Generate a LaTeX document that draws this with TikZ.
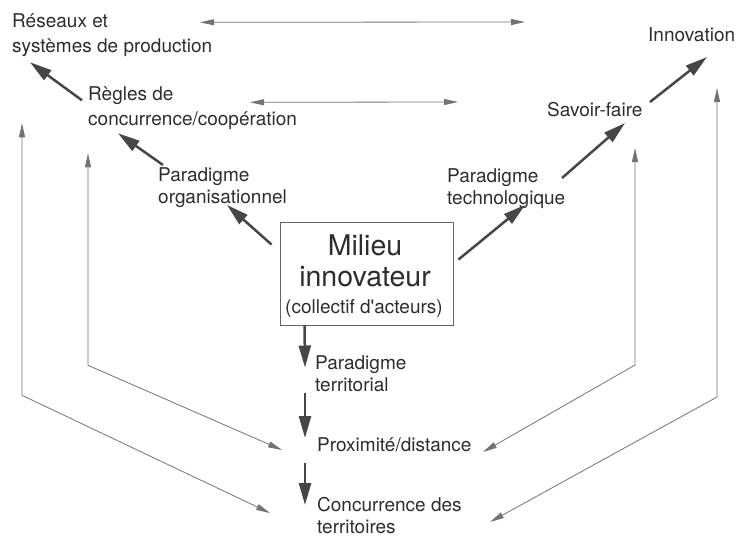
\documentclass[tikz,border=0pt]{standalone}
\usepackage{fontspec}
\setmainfont{TeX Gyre Heros}
\usetikzlibrary{arrows.meta}
\definecolor{txt}{RGB}{45,45,45}
\definecolor{arr}{RGB}{70,70,70}
\definecolor{thinc}{RGB}{115,115,115}
\definecolor{boxc}{RGB}{100,100,100}
\begin{document}
\begin{tikzpicture}[x=1pt,y=-1pt,
  lbl/.style={anchor=west, inner sep=0pt, align=left, text=txt, font=\fontsize{19}{25}\selectfont},
  lbls/.style={lbl, font=\fontsize{19}{22}\selectfont},
  mainarr/.style={draw=arr, line width=2.5pt, -{Triangle[length=22pt,width=12pt]}},
  fbarr/.style={draw=thinc, line width=0.8pt, {Triangle[length=14pt,width=6pt]}-{Triangle[length=14pt,width=6pt]}},
  boxtxt/.style={inner sep=0pt, text=txt}
]
\useasboundingbox (0,0) rectangle (737,538);

% labels
\node[lbl] (res) at (12,35.3) {Réseaux et\\systèmes de production};
\node[lbl] (regles) at (88,108.3) {Règles de\\concurrence/coopération};
\node[lbls] (porg) at (158,188) {Paradigme\\organisationnel};
\node[lbls] (ptech) at (447,189) {Paradigme\\technologique};
\node[lbl] (savoir) at (547,110) {Savoir-faire};
\node[lbl] (innov) at (648,35) {Innovation};
\node[lbls] (pterr) at (315,373.5) {Paradigme\\territorial};
\node[lbl] (prox) at (317,445) {Proximité/distance};
\node[lbls] (conc) at (317,516) {Concurrence des\\territoires};

% central box
\node[draw=boxc, line width=0.9pt, minimum width=173pt, minimum height=103pt, inner sep=0pt] (milieu) at (366.5,273.5) {};
\node[boxtxt, font=\fontsize{28.5}{30}\selectfont] (m1) at (365,245) {Milieu};
\node[boxtxt, font=\fontsize{28.5}{30}\selectfont] (m2) at (365,277) {innovateur};
\node[boxtxt, font=\fontsize{19}{22}\selectfont] (m3) at (364,309) {(collectif d\textquotesingle acteurs)};

% main chain arrows
\draw[mainarr] ([shift={(-6,-8)}]regles.west) -- ([shift={(18,27)}]res.west);
\draw[mainarr] ([shift={(5,-23)}]porg.west) -- ([shift={(30,25)}]regles.west);
\draw[mainarr] ([shift={(-8,23)}]milieu.north west) -- ([shift={(69,17)}]porg.west);
\draw[mainarr] ([shift={(5,38)}]milieu.north east) -- ([shift={(78,16)}]ptech.west);
\draw[mainarr] ([shift={(115,-11)}]ptech.west) -- ([shift={(78,13)}]savoir.west);
\draw[mainarr] ([shift={(103,-8)}]savoir.west) -- ([shift={(59,22)}]innov.west);

% down arrows
\draw[mainarr] ([shift={(25,0)}]milieu.south west) -- ([shift={(-10,-6)}]pterr.west);
\draw[mainarr] ([shift={(-10,19)}]pterr.west) -- ([shift={(-12,-7)}]prox.west);
\draw[mainarr] ([shift={(-12,18)}]prox.west) -- ([shift={(-12,-11)}]conc.west);

% horizontal double arrows
\draw[fbarr] ([shift={(188,-13)}]res.west) -- ([shift={(-123,-13)}]innov.west);
\draw[fbarr] ([shift={(162,-6)}]regles.west) -- ([shift={(-89,-8)}]savoir.west);

% feedback loops
\draw[fbarr] ([shift={(10,88)}]res.west) -- ++(0,272) -- ([shift={(-47,-3)}]conc.west);
\draw[fbarr] ([shift={(0,45)}]regles.west) -- ++(0,212) -- ([shift={(-35,5)}]prox.west);
\draw[fbarr] ([shift={(88,38)}]savoir.west) -- ++(0,217) -- ([shift={(166,7)}]prox.west);
\draw[fbarr] ([shift={(69,53)}]innov.west) -- ++(0,309) -- ([shift={(173,6)}]conc.west);
\end{tikzpicture}
\end{document}
